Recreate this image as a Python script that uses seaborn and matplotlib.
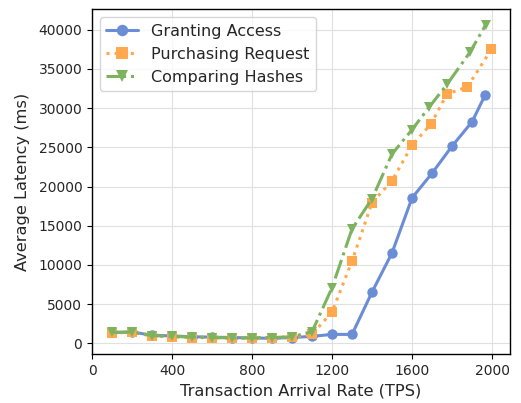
import matplotlib
matplotlib.use("Agg")
import matplotlib.pyplot as plt
import seaborn as sns
import pandas as pd

series_names = ["Granting Access", "Purchasing Request", "Comparing Hashes"]

x_granting = [100, 200, 300, 400, 500, 600, 700, 800, 900, 1000, 1100, 1200, 1300,
              1400, 1500, 1600, 1700, 1800, 1900, 1965]
y_granting = [1400, 1450, 1050, 950, 850, 800, 750, 700, 650, 750, 900, 1150, 1150,
              6550, 11550, 18550, 21700, 25150, 28250, 31650]

x_purchasing = [100, 200, 300, 400, 500, 600, 700, 800, 900, 1000, 1100, 1200, 1300,
                1400, 1500, 1600, 1695, 1775, 1877, 1997]
y_purchasing = [1350, 1400, 950, 850, 750, 750, 650, 700, 750, 850, 1150, 4000, 10500,
                17950, 20750, 25250, 28000, 31800, 32700, 37500]

x_hashes = [100, 200, 300, 400, 500, 600, 700, 800, 900, 1000, 1100, 1200, 1300,
            1400, 1500, 1600, 1685, 1777, 1889, 1968]
y_hashes = [1400, 1450, 1000, 900, 800, 750, 700, 700, 750, 850, 1500, 7100, 14600,
            18450, 24150, 27250, 30100, 33100, 37100, 40600]

colors = ["#6B8DD6", "#FFA84D", "#7DB35F"]
markers = ["o", "s", "v"]
linestyles = ["-", ":", "-."]

sns.set_style("whitegrid")
plt.rcParams['font.family'] = ['DejaVu Sans']

fig = plt.figure(figsize=(5.21, 4.03), dpi=100)
ax = fig.add_axes([0.1766, 0.1216, 0.8024, 0.8554])

data = [(x_granting, y_granting), (x_purchasing, y_purchasing), (x_hashes, y_hashes)]
for name, (xs, ys), c, m, ls in zip(series_names, data, colors, markers, linestyles):
    df = pd.DataFrame({"x": xs, "y": ys})
    sns.lineplot(data=df, x="x", y="y", ax=ax, color=c, marker=m, linestyle=ls,
                 linewidth=2.2, markersize=7.5, markeredgewidth=0, label=name)

ax.set_xlim(0, 2090)
ax.set_xticks([0, 400, 800, 1200, 1600, 2000])
ax.set_yticks([0, 5000, 10000, 15000, 20000, 25000, 30000, 35000, 40000])
ax.set_xlabel("Transaction Arrival Rate (TPS)", fontsize=11.7)
ax.set_ylabel("Average Latency (ms)", fontsize=11.7, labelpad=6)
ax.tick_params(axis="both", labelsize=10, length=3.5, width=0.8, color="black",
               direction="out", bottom=True, left=True)
for s in ax.spines.values():
    s.set_color("black")
    s.set_linewidth(1.0)
ax.grid(True, color="#e0e0e0", linewidth=0.8)
leg = ax.legend(loc="upper left", fontsize=11.5, frameon=True, markerscale=1.1)
leg.get_frame().set_edgecolor("#cccccc")

fig.savefig("out.png", dpi=100)
